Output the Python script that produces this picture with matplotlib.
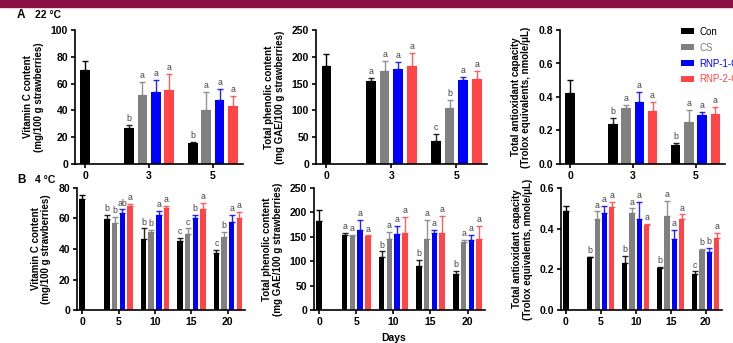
import matplotlib
matplotlib.use('Agg')
import matplotlib.pyplot as plt
import numpy as np
from matplotlib.patches import Patch

plt.rcParams['font.family'] = ['Liberation Sans', 'DejaVu Sans']

W, H = 733, 343

groups = ['Con', 'CS', 'RNP-1-CS', 'RNP-2-CS']
colors = ['#000000', '#808080', '#0000ff', '#ff4545']

days_22 = ['0', '3', '5']
days_4 = ['0', '5', '10', '15', '20']

# 22 °C: day 0 has only the Con bar
vc22_day0 = (70, 7)
vc22 = [[26.5, 51.5, 54, 55.5], [15.5, 40.5, 48, 43]]
vc22_err = [[2.5, 9.5, 9, 11.5], [1, 13.5, 8, 8]]
vc22_let = [['b', 'a', 'a', 'a'], ['b', 'a', 'a', 'a']]

tpc22_day0 = (182, 23)
tpc22 = [[155, 174, 178, 183], [43, 105, 157, 158]]
tpc22_err = [[5, 18, 12, 25], [13, 15, 6, 16]]
tpc22_let = [['a', 'a', 'a', 'a'], ['c', 'b', 'a', 'a']]

tac22_day0 = (0.425, 0.075)
tac22 = [[0.24, 0.335, 0.37, 0.315], [0.115, 0.25, 0.295, 0.30]]
tac22_err = [[0.035, 0.015, 0.06, 0.055], [0.01, 0.075, 0.015, 0.04]]
tac22_let = [['b', 'a', 'a', 'a'], ['b', 'a', 'a', 'a']]

# 4 °C
vc4_day0 = (72.5, 3)
vc4 = [[59.5, 57, 63.5, 68.5], [46.5, 51, 62, 67],
       [45, 50, 60, 66.5], [37.5, 48, 57.5, 60]]
vc4_err = [[3, 4, 2.5, 1], [7, 1.5, 3, 1.5],
           [2.5, 3.5, 2.5, 3.5], [2, 3, 5, 4.5]]
vc4_let = [['b', 'b', 'ab', 'a'], ['b', 'b', 'a', 'a'],
           ['c', 'c', 'b', 'a'], ['c', 'b', 'a', 'a']]

tpc4_day0 = (182, 23)
tpc4 = [[153, 152, 163, 151], [108, 146, 155, 158],
        [90, 145, 157, 157], [74, 140, 144, 145]]
tpc4_err = [[5, 2, 22, 2], [12, 14, 17, 32],
            [13, 40, 7, 36], [6, 3, 10, 27]]
tpc4_let = [['a', 'a', 'a', 'a'], ['b', 'a', 'a', 'a'],
            ['b', 'a', 'a', 'a'], ['b', 'a', 'a', 'a']]

tac4_day0 = (0.485, 0.025)
tac4 = [[0.26, 0.45, 0.475, 0.505], [0.23, 0.475, 0.45, 0.42],
        [0.205, 0.46, 0.35, 0.45], [0.175, 0.295, 0.287, 0.355]]
tac4_err = [[0.003, 0.035, 0.035, 0.025], [0.035, 0.025, 0.08, 0.005],
            [0.005, 0.075, 0.045, 0.02], [0.015, 0.005, 0.018, 0.025]]
tac4_let = [['b', 'a', 'a', 'a'], ['b', 'a', 'a', 'a'],
            ['b', 'a', 'a', 'a'], ['c', 'b', 'b', 'a']]


def rect(x0, x1, ytop, ybot):
    return [x0 / W, 1 - ybot / H, (x1 - x0) / W, (ybot - ytop) / H]


def panel(fig, r, day0, vals, errs, lets, days, ymax, ystep, ylabel, xlim, fmt):
    ax = fig.add_axes(r)
    step, width = 0.21, 0.15
    offsets = (np.arange(4) - 1.5) * step
    ax.bar(0, day0[0], width, color=colors[0], zorder=2)
    ax.errorbar(0, day0[0], yerr=[[0], [day0[1]]], fmt='none',
                ecolor=colors[0], elinewidth=1, capsize=2, capthick=1)
    pad = ymax * 0.015
    for gi in range(len(vals)):
        x0 = gi + 1
        for k in range(4):
            x = x0 + offsets[k]
            v, e = vals[gi][k], errs[gi][k]
            ax.bar(x, v, width, color=colors[k], zorder=2)
            ax.errorbar(x, v, yerr=[[0], [e]], fmt='none', ecolor=colors[k],
                        elinewidth=1, capsize=2, capthick=1, alpha=0.85)
            ax.text(x, v + e + pad, lets[gi][k], ha='center', va='bottom',
                    fontsize=6.3, color='#444444')
    ax.set_xlim(*xlim)
    ax.set_ylim(0, ymax)
    ax.set_xticks(range(len(days)))
    ax.set_xticklabels(days)
    ax.set_yticks(np.arange(0, ymax + ystep / 2, ystep))
    ax.yaxis.set_major_formatter(plt.FormatStrFormatter(fmt))
    for s in ['top', 'right']:
        ax.spines[s].set_visible(False)
    for s in ['left', 'bottom']:
        ax.spines[s].set_linewidth(1.2)
    ax.tick_params(direction='out', length=3, width=1.2, labelsize=7.5, pad=2)
    for lab in ax.get_xticklabels() + ax.get_yticklabels():
        lab.set_fontweight('bold')
    ax.set_ylabel(ylabel, fontsize=7, fontweight='bold', labelpad=5, linespacing=1.1)
    return ax


fig = plt.figure(figsize=(W / 100, H / 100), dpi=100)

# top band
fig.patches.append(plt.Rectangle((0, 1 - 7 / H), 1, 7 / H, transform=fig.transFigure,
                                 color='#8a0f45', zorder=0))

xl22 = (-0.16, 2.47)
xl4 = (-0.14, 4.47)

panel(fig, rect(75, 243, 30, 164), vc22_day0, vc22, vc22_err, vc22_let, days_22,
      100, 20, 'Vitamin C content\n(mg/100 g strawberries)', xl22, '%d')
panel(fig, rect(316, 487, 30, 164), tpc22_day0, tpc22, tpc22_err, tpc22_let, days_22,
      250, 50, 'Total phenolic content\n(mg GAE/100 g strawberries)', xl22, '%d')
panel(fig, rect(560, 725, 30, 164), tac22_day0, tac22, tac22_err, tac22_let, days_22,
      0.8, 0.2, 'Total antioxidant capacity\n(Trolox equivalents, nmole/μL)', xl22, '%.1f')

panel(fig, rect(77, 245, 188, 310), vc4_day0, vc4, vc4_err, vc4_let, days_4,
      80, 20, 'Vitamin C content\n(mg/100 g strawberries)', xl4, '%d')
panel(fig, rect(314, 485, 188, 310), tpc4_day0, tpc4, tpc4_err, tpc4_let, days_4,
      250, 50, 'Total phenolic content\n(mg GAE/100 g strawberries)', xl4, '%d')
panel(fig, rect(561, 722, 188, 310), tac4_day0, tac4, tac4_err, tac4_let, days_4,
      0.6, 0.2, 'Total antioxidant capacity\n(Trolox equivalents, nmole/μL)', xl4, '%.1f')

fig.text(394 / W, 1 - 338 / H, 'Days', ha='center', va='center', fontsize=7.5,
         fontweight='bold')

fig.text(17 / W, 1 - 15 / H, 'A', ha='left', va='center', fontsize=8.5, fontweight='bold')
fig.text(35 / W, 1 - 15 / H, '22 °C', ha='left', va='center', fontsize=7.5, fontweight='bold')
fig.text(17 / W, 1 - 180 / H, 'B', ha='left', va='center', fontsize=8.5, fontweight='bold')
fig.text(35 / W, 1 - 180 / H, '4 °C', ha='left', va='center', fontsize=7.5, fontweight='bold')

handles = [Patch(facecolor=c, edgecolor='none') for c in colors]
fig.legend(handles, groups, loc='upper left', bbox_to_anchor=(676 / W, 1 - 22 / H),
           frameon=False, fontsize=7, labelcolor=colors, handlelength=1.3,
           handleheight=0.55, labelspacing=0.6, handletextpad=0.6, borderpad=0)

fig.savefig('out.png', dpi=100)
